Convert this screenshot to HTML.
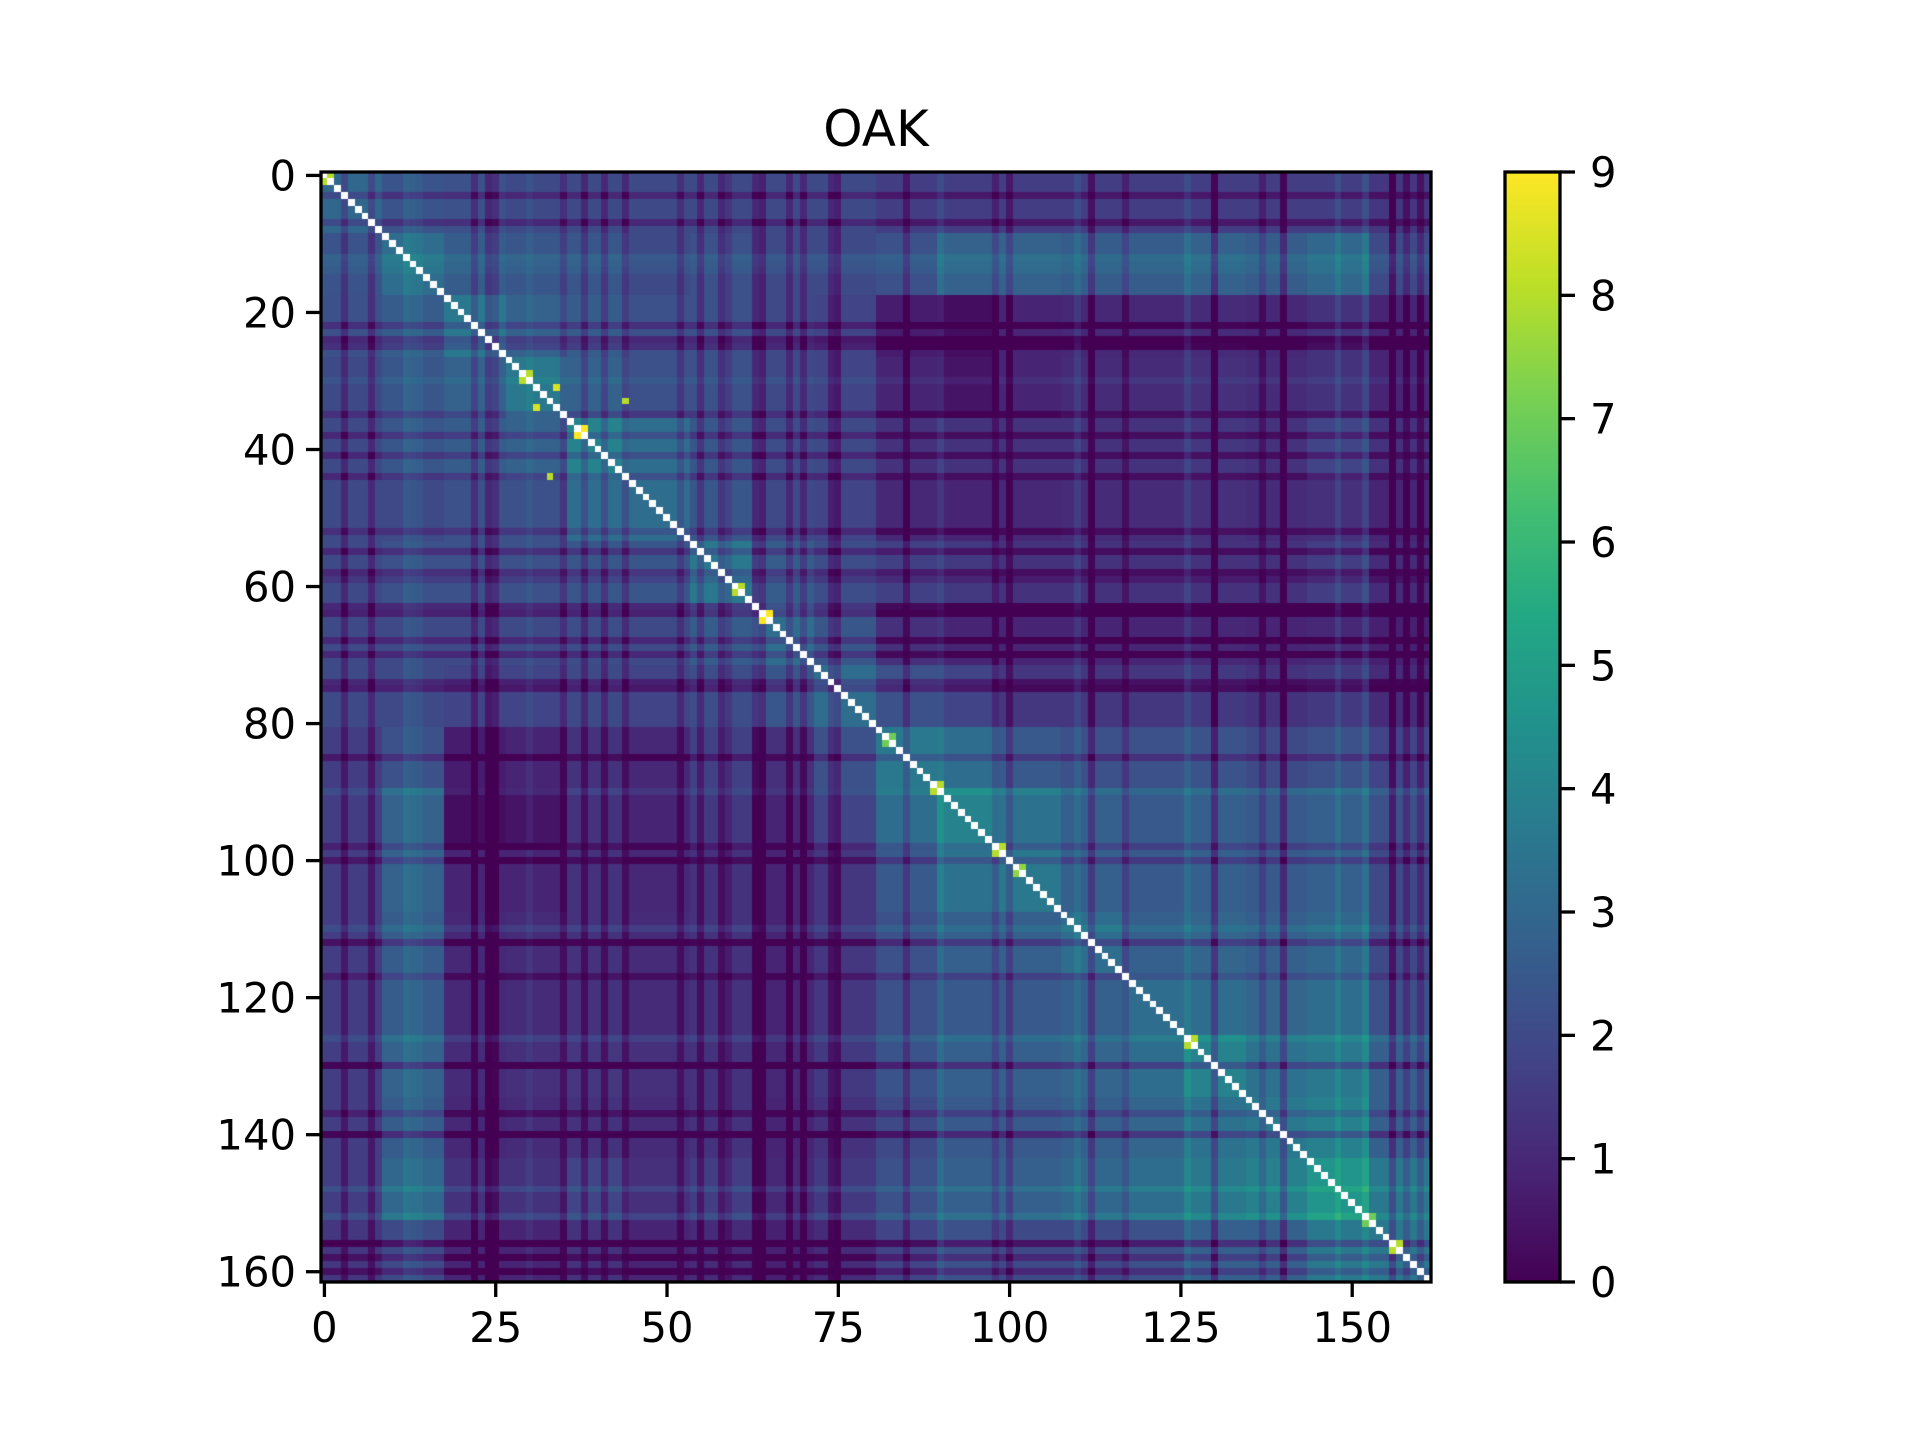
<!DOCTYPE html>
<html><head><meta charset="utf-8"><style>
body{margin:0;background:#fff;}
#wrap{position:relative;width:1920px;height:1440px;font-family:"DejaVu Sans","Liberation Sans",sans-serif;}
svg text{font-family:"DejaVu Sans","Liberation Sans",sans-serif;}
</style></head><body>
<div id="wrap">
<svg id="svg" width="1920" height="1440" xmlns="http://www.w3.org/2000/svg">
<defs>
<linearGradient id="vir" x1="0" y1="1" x2="0" y2="0">
<stop offset="0" stop-color="#440154"/><stop offset="0.1" stop-color="#482475"/><stop offset="0.2" stop-color="#414487"/><stop offset="0.3" stop-color="#355f8d"/><stop offset="0.4" stop-color="#2a788e"/><stop offset="0.5" stop-color="#21918c"/><stop offset="0.6" stop-color="#22a884"/><stop offset="0.7" stop-color="#44bf70"/><stop offset="0.8" stop-color="#7ad151"/><stop offset="0.9" stop-color="#bddf26"/><stop offset="1" stop-color="#fde725"/>
</linearGradient>
</defs>
<text x="876" y="146" font-size="50" text-anchor="middle">OAK</text>
<foreignObject x="321" y="172" width="1110" height="1110"><canvas xmlns="http://www.w3.org/1999/xhtml" id="cv" width="1110" height="1110"></canvas></foreignObject>
<rect x="321" y="172" width="1110" height="1110" fill="none" stroke="#000" stroke-width="3.3"/>
<g id="xt"></g>
<g id="yt"></g>
<rect x="1505" y="172" width="55" height="1110" fill="url(#vir)" stroke="#000" stroke-width="3.3"/>
<g id="ct"></g>
</svg>
</div>
<script>
const blockValues = [
[3,2.3,2.2,2,2,2,2,2,2, 1.6,1.6,1.6,1.6,1.6,1.6,1.6,1.6,1.4],
[2.3,3.2,2.6,2.4,2.4,2,2.2,2,2, 2.2,2.8,2.8,2.6,2.6,2.8,2.6,3,2],
[2.2,2.6,3.6,2.8,2.6,2.2,2.2,2,1.8, 0.7,0.3,0.9,1,1,1.1,1,1.3,0.9],
[2,2.4,2.8,3.6,2.8,2.2,2.2,2,1.8, 0.9,0.5,0.9,1.1,1.1,1.2,1.1,1.3,0.9],
[2,2.4,2.6,2.8,4,3.2,2.4,2.1,2, 1.3,1.3,1.3,1.3,1.3,1.4,1.3,1.8,1.3],
[2,2,2.2,2.2,3.2,3.2,2.4,2,1.8, 1,0.9,1,1.1,1.1,1.2,1.1,1.2,0.9],
[2,2.2,2.2,2.2,2.4,2.4,3.6,2.6,2.1, 1.7,1.5,1.3,1.3,1.3,1.3,1.3,1.6,1.1],
[2,2,2,2,2.1,2,2.6,3.2,2.4, 1.2,0.9,0.9,0.9,0.9,1,0.9,1,0.8],
[2,2,1.8,1.8,2,1.8,2.1,2.4,3.2, 2.2,1.8,1.4,1.4,1.4,1.5,1.3,1.5,1.1],
[1.6,2.2,0.7,0.9,1.3,1,1.7,1.2,2.2, 3.6,3.2,2.5,2.2,2.2,2.3,2,2.2,1.8],
[1.6,2.8,0.3,0.5,1.3,0.9,1.5,0.9,1.8, 3.2,4,3.4,2.7,2.5,2.7,2.5,2.7,2.2],
[1.6,2.8,0.9,0.9,1.3,1,1.3,0.9,1.4, 2.5,3.4,3.6,2.7,2.5,2.7,2.5,2.7,2],
[1.6,2.6,1,1.1,1.3,1.1,1.3,0.9,1.4, 2.2,2.7,2.7,3.2,2.7,2.9,2.7,3,2],
[1.6,2.6,1,1.1,1.3,1.1,1.3,0.9,1.4, 2.2,2.5,2.5,2.7,3.2,3.2,2.9,3.2,2.2],
[1.6,2.8,1.1,1.2,1.4,1.2,1.3,1,1.5, 2.3,2.7,2.7,2.9,3.2,4,3.4,3.6,2.7],
[1.6,2.6,1,1.1,1.3,1.1,1.3,0.9,1.3, 2,2.5,2.5,2.7,2.9,3.4,3.6,3.9,2.7],
[1.6,3,1.3,1.3,1.8,1.2,1.6,1,1.5, 2.2,2.7,2.7,3,3.2,3.6,3.9,4.6,3.6],
[1.4,2,0.9,0.9,1.3,0.9,1.1,0.8,1.1, 1.8,2.2,2,2,2.2,2.7,2.7,3.6,3.6]
];
const indexShift = [
0,0,0,-1,0,0,0,-1,0,0,
0,0,0.5,0.4,0.3,0,0,0,0,0,
0,0,-1,0,-1.2,-1,0,0,0,0,
0.3,0,0,0,0,-0.8,0,0,-1,0,
0,-1,0,0,-1,0,0,0,0,0,
0,0,-0.8,0,0,-1,0,0,-1,-0.6,
0,0,0,-1,-1.2,0,0,0,-1,0,
-1,0,0,0,-1,-1.2,0,0,0,0,
0,0,0,0,0,-1,0,0,0,0,
0.5,0,0,0,0,0,0,0,-0.8,0,
-1,0,0,0,0,0,0,0,0,0,
0.5,0,-1.2,0,0,0,0,-0.8,0,0,
0,0,0,0,0,0,0.5,0,0,0,
-1.5,0,0,0,0,0,0,-0.8,0,0,
-1.5,0,0,0,0,0,0,0,0.6,0,
0,0,0.6,0,0,0,-1.5,0,-1,0,
-1,0
];
const peakCells = [[0,1,8],[37,38,9],[31,34,8.5],[30,29,8],[64,65,9],[60,61,8],[44,33,8],[89,90,8],[98,99,8],[101,102,7.5],[126,127,8],[156,157,8],[152,153,7],[82,83,7]];
const xTicks = [0,25,50,75,100,125,150];
const yTicks = [0,20,40,60,80,100,120,140,160];
const cbTicks = [0,1,2,3,4,5,6,7,8,9];
const N = 162, vmax = 9;
const X0=321,Y0=172,W=1110,cell=W/N;
const stops=["#440154","#482475","#414487","#355f8d","#2a788e","#21918c","#22a884","#44bf70","#7ad151","#bddf26","#fde725"].map(h=>[parseInt(h.slice(1,3),16),parseInt(h.slice(3,5),16),parseInt(h.slice(5,7),16)]);
function viridis(t){t=Math.max(0,Math.min(1,t));const p=t*10,i=Math.min(9,Math.floor(p)),f=p-i;const a=stops[i],b=stops[i+1];return `rgb(${Math.round(a[0]+(b[0]-a[0])*f)},${Math.round(a[1]+(b[1]-a[1])*f)},${Math.round(a[2]+(b[2]-a[2])*f)})`;}
const xs=v=>X0+(v+0.5)*cell, ys=v=>Y0+(v+0.5)*cell;
const M=[];
for(let i=0;i<N;i++){M.push([]);for(let j=0;j<N;j++){M[i].push(Math.max(0,blockValues[Math.floor(i/9)][Math.floor(j/9)]+indexShift[i]+indexShift[j]));}}
peakCells.forEach(p=>{M[p[0]][p[1]]=p[2];M[p[1]][p[0]]=p[2];});
const ctx=document.getElementById('cv').getContext('2d');
for(let i=0;i<N;i++)for(let j=0;j<N;j++){
  ctx.fillStyle = i===j ? '#ffffff' : viridis(M[i][j]/vmax);
  const x0=Math.floor(xs(j)-cell/2-X0), y0=Math.floor(ys(i)-cell/2-Y0);
  ctx.fillRect(x0,y0,Math.ceil(xs(j)+cell/2-X0)-x0,Math.ceil(ys(i)+cell/2-Y0)-y0);
}
const NS='http://www.w3.org/2000/svg';
function mk(tag,attrs,parent){const e=document.createElementNS(NS,tag);for(const k in attrs)e.setAttribute(k,attrs[k]);parent.appendChild(e);return e;}
const xt=document.getElementById('xt'),yt=document.getElementById('yt'),ct=document.getElementById('ct');
xTicks.forEach(v=>{
  const l=mk('line',{x1:xs(v),x2:xs(v),y1:1282,y2:1297,stroke:'#000','stroke-width':3.3},xt);
  
  
  const t=mk('text',{x:xs(v),y:1342,'font-size':41.7,'text-anchor':'middle'},xt);t.textContent=v;
  
  
});
yTicks.forEach(v=>{
  const l=mk('line',{x1:306,x2:321,y1:ys(v),y2:ys(v),stroke:'#000','stroke-width':3.3},yt);
  
  
  const t=mk('text',{x:296,y:ys(v)+15,'font-size':41.7,'text-anchor':'end'},yt);t.textContent=v;
  
  
});
cbTicks.forEach(v=>{
  const y=1282-v/vmax*1110;
  const l=mk('line',{x1:1560,x2:1575,y1:y,y2:y,stroke:'#000','stroke-width':3.3},ct);
  
  
  const t=mk('text',{x:1590,y:y+15,'font-size':41.7},ct);t.textContent=v;
  
  
});
</script>
</body></html>
